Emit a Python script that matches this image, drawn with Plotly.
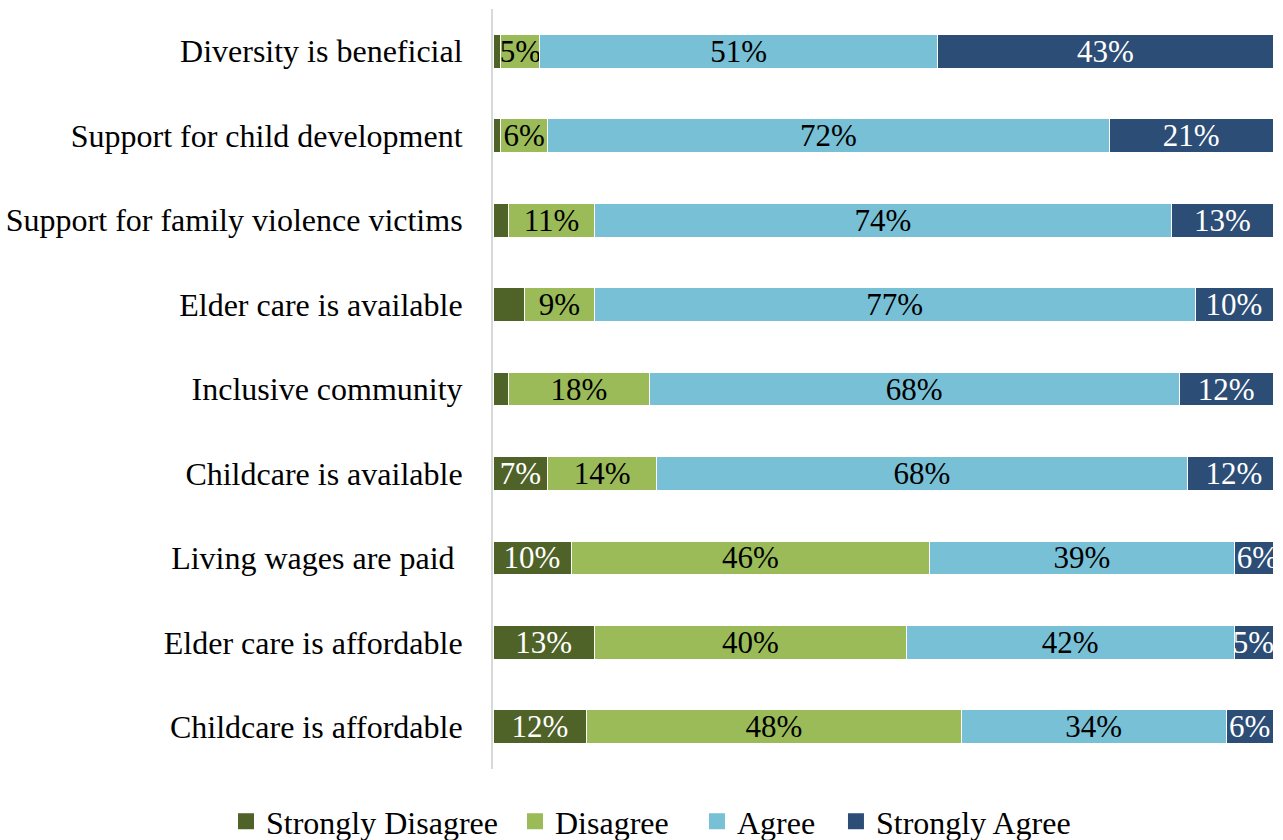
import plotly.graph_objects as go

# Survey items, top to bottom
categories = [
    "Diversity is beneficial",
    "Support for child development",
    "Support for family violence victims",
    "Elder care is available",
    "Inclusive community",
    "Childcare is available",
    "Living wages are paid\u00a0",
    "Elder care is affordable",
    "Childcare is affordable",
]

# Percent of responses per category
strongly_disagree = [1, 1, 2, 4, 2, 7, 10, 13, 12]
disagree = [5, 6, 11, 9, 18, 14, 46, 40, 48]
agree = [51, 72, 74, 77, 68, 68, 39, 42, 34]
strongly_agree = [43, 21, 13, 10, 12, 12, 6, 5, 6]

series = [
    ("Strongly Disagree", strongly_disagree, "#4F6228", "white", 5),
    ("Disagree", disagree, "#9BBB59", "black", 0),
    ("Agree", agree, "#78C0D6", "black", 0),
    ("Strongly Agree", strongly_agree, "#2C4D75", "white", 0),
]

# Left edge of each legend entry, in plot-width fractions
legend_x = [-0.3423, 0.0282, 0.2615, 0.4397]

FONT = "Liberation Serif, Times New Roman, serif"
LABEL_SIZE = 31
TEXT_SIZE = 32

fig = go.Figure()
for name, vals, color, txtcolor, min_label in series:
    labels = [f"{v}%" if v > min_label else "" for v in vals]
    fig.add_trace(go.Bar(
        name=name,
        y=categories,
        x=vals,
        orientation="h",
        marker=dict(color=color, line=dict(color="white", width=1)),
        text=labels,
        textposition="inside",
        insidetextanchor="middle",
        textangle=0,
        textfont=dict(family=FONT, size=LABEL_SIZE, color=txtcolor),
        hoverinfo="skip",
        showlegend=False,
    ))

# Square swatches, one small legend per response level
legend_layout = {}
for i, ((name, vals, color, txtcolor, min_label), lx) in enumerate(zip(series, legend_x)):
    key = "legend" if i == 0 else f"legend{i + 1}"
    fig.add_trace(go.Scatter(
        name=name,
        x=[None],
        y=[None],
        mode="markers",
        marker=dict(symbol="square", size=16, color=color),
        hoverinfo="skip",
        showlegend=True,
        legend=key,
    ))
    legend_layout[key] = dict(
        orientation="h",
        xref="paper",
        x=lx,
        xanchor="left",
        yref="paper",
        y=-0.069,
        yanchor="middle",
        font=dict(family=FONT, size=TEXT_SIZE, color="black"),
        itemwidth=30,
        bgcolor="rgba(0,0,0,0)",
    )

fig.update_layout(
    barmode="stack",
    bargap=0.6,
    width=1283,
    height=840,
    margin=dict(l=493, r=10, t=9, b=71, autoexpand=False),
    paper_bgcolor="white",
    plot_bgcolor="white",
    font=dict(family=FONT, size=TEXT_SIZE, color="black"),
    uniformtext=dict(minsize=LABEL_SIZE, mode="show"),
    **legend_layout,
)

fig.update_xaxes(
    range=[0, 100],
    visible=False,
    showgrid=False,
    zeroline=False,
)
fig.update_yaxes(
    categoryorder="array",
    categoryarray=categories,
    autorange="reversed",
    automargin=False,
    showline=True,
    linecolor="#D9D9D9",
    linewidth=2,
    ticks="",
    ticklabelstandoff=22,
    showgrid=False,
    tickfont=dict(family=FONT, size=TEXT_SIZE, color="black"),
)

fig.write_html("out.html")
